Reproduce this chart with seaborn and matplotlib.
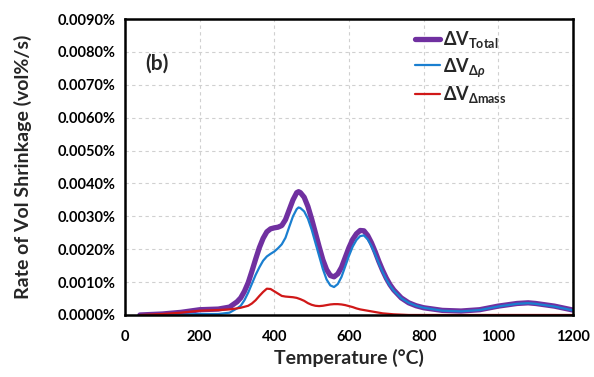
import numpy as np
import pandas as pd
import matplotlib
matplotlib.use("Agg")
import matplotlib.pyplot as plt
from matplotlib.ticker import FuncFormatter, MultipleLocator
import seaborn as sns

# Temperature (°C)
temperature = [40, 100, 150, 200, 250, 280, 300, 310, 320, 330, 340, 350, 360, 370, 380,
               390, 400, 410, 420, 430, 440, 450, 460, 465, 470, 480, 490, 500, 510, 520,
               530, 540, 550, 560, 570, 580, 590, 600, 610, 620, 630, 640, 650, 660, 670,
               680, 690, 700, 710, 720, 740, 760, 780, 800, 850, 900, 950, 1000, 1050,
               1080, 1100, 1150, 1200]
# Rates in units of 0.001 vol%/s
dv_total = [0.0, 0.03, 0.08, 0.16, 0.18, 0.24, 0.40, 0.52, 0.72, 0.98, 1.33, 1.70, 2.05, 2.33, 2.53,
            2.62, 2.65, 2.67, 2.72, 2.90, 3.20, 3.50, 3.72, 3.75, 3.72, 3.58, 3.30, 2.92, 2.50, 2.08,
            1.68, 1.38, 1.20, 1.16, 1.25, 1.45, 1.75, 2.05, 2.30, 2.47, 2.57, 2.56, 2.42, 2.20, 1.93,
            1.63, 1.36, 1.12, 0.92, 0.76, 0.52, 0.37, 0.28, 0.22, 0.14, 0.12, 0.16, 0.27, 0.35,
            0.37, 0.35, 0.27, 0.15]
dv_rho = [0.0, 0.0, 0.01, 0.03, 0.03, 0.07, 0.20, 0.28, 0.45, 0.68, 0.95, 1.22, 1.45, 1.65, 1.78,
          1.86, 1.93, 2.03, 2.15, 2.35, 2.68, 3.00, 3.22, 3.27, 3.25, 3.15, 2.93, 2.60, 2.20, 1.80,
          1.40, 1.08, 0.90, 0.85, 0.94, 1.16, 1.48, 1.80, 2.08, 2.28, 2.40, 2.42, 2.30, 2.10, 1.85,
          1.57, 1.31, 1.08, 0.89, 0.74, 0.51, 0.37, 0.28, 0.22, 0.13, 0.11, 0.15, 0.26, 0.34,
          0.36, 0.34, 0.26, 0.14]
dv_mass = [0.0, 0.03, 0.07, 0.13, 0.15, 0.17, 0.20, 0.22, 0.25, 0.28, 0.35, 0.45, 0.58, 0.70, 0.80,
           0.79, 0.72, 0.65, 0.58, 0.56, 0.55, 0.54, 0.52, 0.50, 0.48, 0.43, 0.36, 0.31, 0.28, 0.27,
           0.28, 0.30, 0.32, 0.33, 0.33, 0.32, 0.30, 0.27, 0.24, 0.20, 0.17, 0.15, 0.13, 0.11, 0.09,
           0.07, 0.05, 0.04, 0.03, 0.02, 0.01, 0.0, 0.0, 0.0, 0.0, 0.0, 0.0, 0.0, 0.0,
           0.0, 0.0, 0.0, 0.0]
unit = 1e-3  # values above are in 0.001 %

labels = [r"$\mathrm{\Delta V}_{\mathrm{Total}}$",
          r"$\mathrm{\Delta V}_{\mathit{\Delta\rho}}$",
          r"$\mathrm{\Delta V}_{\mathrm{\Delta mass}}$"]
colors = ["#7030A0", "#1a7fd0", "#D01818"]
widths = [3.8, 1.6, 1.6]

sns.set_style("white")
plt.rcParams["font.family"] = ["Lato", "DejaVu Sans"]
plt.rcParams["font.weight"] = "bold"
plt.rcParams["mathtext.fontset"] = "custom"
plt.rcParams["mathtext.rm"] = "Lato:bold"
plt.rcParams["mathtext.it"] = "Lato:bold:italic"
plt.rcParams["mathtext.bf"] = "Lato:bold"

fig = plt.figure(figsize=(5.94, 3.77), dpi=100)
ax = fig.add_axes([0.2104, 0.1645, 0.7542, 0.785])

t = np.array(temperature)
for vals, lab, col, lw in zip([dv_total, dv_rho, dv_mass], labels, colors, widths):
    df = pd.DataFrame({"T": t, "v": np.array(vals) * unit})
    sns.lineplot(data=df, x="T", y="v", ax=ax, color=col, linewidth=lw, label=lab,
                 solid_capstyle="round", solid_joinstyle="round")

ax.set_xlim(0, 1200)
ax.set_ylim(0, 0.009)
ax.xaxis.set_major_locator(MultipleLocator(200))
ax.xaxis.set_minor_locator(MultipleLocator(100))
ax.yaxis.set_major_locator(MultipleLocator(0.001))
ax.yaxis.set_minor_locator(MultipleLocator(0.0002))
ax.yaxis.set_major_formatter(FuncFormatter(lambda v, p: f"{v:.4f}%"))

ax.grid(True, which="major", color="#d0d0d0", linestyle=(0, (3, 3)), linewidth=0.8)
for s in ax.spines.values():
    s.set_color("black")
    s.set_linewidth(1.8)
    s.set_visible(True)

ax.tick_params(axis="both", which="major", direction="inout", length=6, width=1.5,
               labelsize=10.5, colors="black", pad=4)
ax.tick_params(axis="both", which="minor", direction="inout", length=4, width=1.2)
ax.tick_params(axis="x", which="major", pad=8)
for lbl in ax.get_xticklabels() + ax.get_yticklabels():
    lbl.set_fontweight("bold")

ax.set_xlabel("Temperature (°C)", fontsize=14, fontweight="bold", labelpad=3)
ax.set_ylabel("Rate of Vol Shrinkage (vol%/s)", fontsize=14, fontweight="bold", labelpad=18)

ax.text(0.045, 0.83, "(b)", transform=ax.transAxes, fontsize=15, fontweight="bold")

leg = ax.legend(loc="upper left", bbox_to_anchor=(0.61, 1.02), frameon=False,
                fontsize=13, handlelength=1.4, handletextpad=0.2, labelspacing=0.3)

fig.savefig("out.png", dpi=100)
